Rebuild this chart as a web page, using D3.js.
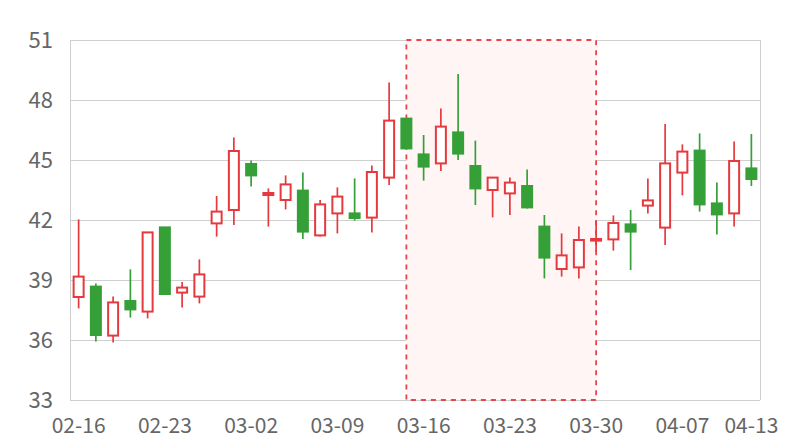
<!DOCTYPE html>
<html>
<head>
<meta charset="utf-8">
<script src="https://cdn.jsdelivr.net/npm/d3@7/dist/d3.min.js"></script>
<style>
  html, body { margin: 0; padding: 0; background: #fff; }
  svg { display: block; }
  text { font-family: "Noto Sans CJK SC", "Noto Sans", sans-serif; }
</style>
</head>
<body>
<svg id="chart" width="800" height="440"></svg>
<script>
const dates = ["02-16","02-17","02-18","02-19","02-20","02-23","02-24","02-25","02-26","02-27",
  "03-02","03-03","03-04","03-05","03-06","03-09","03-10","03-11","03-12","03-13",
  "03-16","03-17","03-18","03-19","03-20","03-23","03-24","03-25","03-26","03-27",
  "03-30","03-31","04-01","04-02","04-03","04-07","04-08","04-09","04-10","04-13"];
const openVals  = [38.15,38.67,36.22,37.95,37.42,41.63,38.37,38.17,41.83,42.50,
  44.80,43.25,43.00,43.47,41.23,42.33,42.33,42.12,44.12,47.07,
  45.28,44.83,46.38,44.70,43.50,43.33,43.70,41.67,39.55,39.63,
  40.97,41.03,41.78,42.72,41.62,44.37,45.47,42.83,42.33,44.58];
const closeVals = [39.17,36.25,37.88,37.53,41.38,38.30,38.62,39.28,42.42,45.45,
  44.23,43.35,43.78,41.42,42.78,43.17,42.10,44.40,46.97,45.58,
  44.67,46.67,45.32,43.58,44.12,43.87,42.63,40.12,40.23,41.00,
  41.05,41.85,41.42,42.98,44.83,45.42,42.78,42.28,44.95,44.05];
const highVals  = [42.03,38.83,38.17,39.53,41.40,41.65,38.90,40.03,43.20,46.13,
  44.97,43.58,44.23,44.38,43.00,43.63,44.08,44.73,48.87,47.07,
  46.25,47.58,49.30,45.97,44.12,44.13,44.53,42.25,41.33,41.67,
  41.97,42.23,42.50,44.08,46.80,45.78,46.33,43.87,45.92,46.30];
const lowVals   = [37.58,35.92,35.87,37.12,37.08,38.25,37.63,37.83,41.17,41.75,
  43.67,41.67,42.53,41.05,41.17,41.33,41.97,41.37,43.75,45.53,
  43.97,44.45,45.00,42.75,42.13,42.25,42.57,39.08,39.17,39.08,
  40.42,40.47,39.50,42.33,40.75,43.23,42.42,41.28,41.67,43.70];
const yTicks = [33,36,39,42,45,48,51];
const xTickLabels = ["02-16","02-23","03-02","03-09","03-16","03-23","03-30","04-07","04-13"];
const highlightRange = ["03-13","03-30"];

const upColor = "#e5393e", downColor = "#36a038";
const margin = {left: 70, right: 40, top: 40, bottom: 40};
const W = 800, H = 440;
const svg = d3.select("#chart");

const x = d3.scaleBand().domain(dates).range([margin.left, W - margin.right]).padding(0);
const y = d3.scaleLinear().domain([33, 51]).range([H - margin.bottom, margin.top]);
const cx = d => x(d) + x.bandwidth() / 2;

// grid
svg.append("g").selectAll("line").data(yTicks).join("line")
  .attr("x1", margin.left).attr("x2", W - margin.right)
  .attr("y1", d => Math.round(y(d)) + 0.5).attr("y2", d => Math.round(y(d)) + 0.5)
  .attr("stroke", "#cfcfcf").attr("stroke-width", 1);
// left/right border
[margin.left, W - margin.right].forEach(px => {
  svg.append("line").attr("x1", px + 0.5).attr("x2", px + 0.5)
    .attr("y1", margin.top).attr("y2", H - margin.bottom)
    .attr("stroke", "#cfcfcf").attr("stroke-width", 1);
});

// highlight area
const hx0 = cx(highlightRange[0]), hx1 = cx(highlightRange[1]);
svg.append("rect")
  .attr("x", hx0).attr("y", y(51)).attr("width", hx1 - hx0).attr("height", y(33) - y(51))
  .attr("fill", "#fff5f5")
  .attr("stroke", "#e8454a").attr("stroke-width", 1.8)
  .attr("stroke-dasharray", "5,5");

// y axis labels
svg.append("g").selectAll("text").data(yTicks).join("text")
  .attr("x", 53).attr("y", d => y(d)).attr("dy", "0.36em")
  .attr("text-anchor", "end").attr("font-size", 22).attr("fill", "#666")
  .text(d => d);

// x axis labels
svg.append("g").selectAll("text").data(xTickLabels).join("text")
  .attr("x", d => cx(d)).attr("y", 433)
  .attr("text-anchor", "middle").attr("font-size", 21).attr("fill", "#666")
  .text(d => d);

// candles
const data = dates.map((d, i) => ({d, o: openVals[i], c: closeVals[i], h: highVals[i], l: lowVals[i]}));
const bodyW = 10;
const g = svg.append("g");
const cand = g.selectAll("g").data(data).join("g");
cand.append("line")
  .attr("x1", d => cx(d.d)).attr("x2", d => cx(d.d))
  .attr("y1", d => y(d.h)).attr("y2", d => y(d.l))
  .attr("stroke", d => d.c >= d.o ? upColor : downColor).attr("stroke-width", 1.7);
cand.append("rect")
  .attr("x", d => cx(d.d) - bodyW / 2)
  .attr("y", d => y(Math.max(d.o, d.c)))
  .attr("width", bodyW)
  .attr("height", d => Math.max(1, Math.abs(y(d.o) - y(d.c))))
  .attr("fill", d => d.c >= d.o ? "#fff" : downColor)
  .attr("stroke", d => d.c >= d.o ? upColor : downColor)
  .attr("stroke-width", 2);
</script>
</body>
</html>
